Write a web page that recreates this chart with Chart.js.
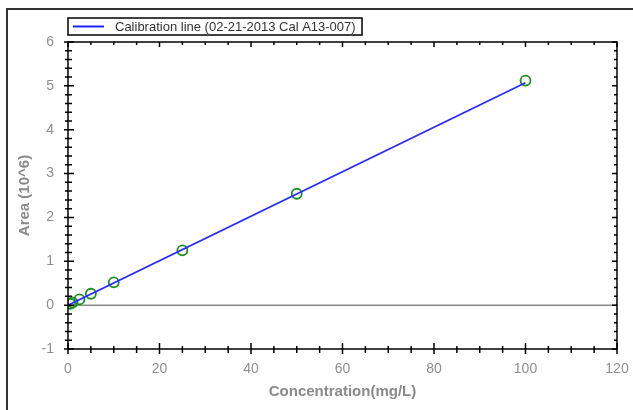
<!DOCTYPE html>
<html>
<head>
<meta charset="utf-8">
<script src="https://cdn.jsdelivr.net/npm/chart.js@4/dist/chart.umd.min.js"></script>
<style>
  html, body { margin: 0; padding: 0; background: #fff; }
  #wrap { position: relative; width: 633px; height: 410px; }
</style>
</head>
<body>
<div id="wrap"><canvas id="c" width="633" height="410"></canvas></div>
<script>
// ---- data ----
const concentrations = [0.5, 1, 2.5, 5, 10, 25, 50, 100];
const areas = [0.03, 0.06, 0.13, 0.26, 0.52, 1.25, 2.54, 5.12];
const fitX = [0, 100];
const fitY = [0, 5.07];
const legendLabel = 'Calibration line (02-21-2013 Cal A13-007)';
const xTitle = 'Concentration(mg/L)';
const yTitle = 'Area (10^6)';
const xRange = [0, 120];
const yRange = [-1, 6];
const xMajorStep = 20, xMinorStep = 5;
const yMajorStep = 1, yMinorStep = 0.2;

const decoPlugin = {
  id: 'deco',
  beforeDatasetsDraw(chart) {
    const ctx = chart.ctx;
    const y = chart.scales.y;
    const a = chart.chartArea;
    ctx.save();
    ctx.strokeStyle = '#8a8a8a';
    ctx.lineWidth = 1.5;
    const y0 = y.getPixelForValue(0);
    ctx.beginPath(); ctx.moveTo(a.left, y0); ctx.lineTo(a.right, y0); ctx.stroke();
    ctx.restore();
  },
  afterDraw(chart) {
    const ctx = chart.ctx;
    const x = chart.scales.x, y = chart.scales.y;
    const a = chart.chartArea;
    ctx.save();
    // outer frame
    ctx.strokeStyle = '#333';
    ctx.lineWidth = 2;
    ctx.strokeRect(7, 9, 700, 500);
    // plot border
    ctx.strokeStyle = '#000';
    ctx.lineWidth = 1.5;
    ctx.strokeRect(a.left, a.top, a.right - a.left, a.bottom - a.top);
    ctx.beginPath();
    const nx = Math.round((xRange[1] - xRange[0]) / xMinorStep);
    for (let i = 0; i <= nx; i++) {
      const v = xRange[0] + i * xMinorStep;
      const px = x.getPixelForValue(v);
      const major = Math.abs(v / xMajorStep - Math.round(v / xMajorStep)) < 1e-6;
      const up = major ? 6 : 3, down = major ? 5 : 4;
      ctx.moveTo(px, a.bottom - up); ctx.lineTo(px, a.bottom + down);
      const inn = major ? 5 : 3;
      ctx.moveTo(px, a.top); ctx.lineTo(px, a.top + inn);
    }
    const ny = Math.round((yRange[1] - yRange[0]) / yMinorStep);
    for (let i = 0; i <= ny; i++) {
      const v = yRange[0] + i * yMinorStep;
      const py = y.getPixelForValue(v);
      const major = Math.abs(v / yMajorStep - Math.round(v / yMajorStep)) < 1e-6;
      const out = major ? 4 : 3, inn = major ? 6 : 4;
      ctx.moveTo(a.left - out, py); ctx.lineTo(a.left + inn, py);
      const rin = major ? 5 : 3;
      ctx.moveTo(a.right - rin, py); ctx.lineTo(a.right, py);
    }
    ctx.stroke();
    // legend box
    ctx.strokeStyle = '#000';
    ctx.lineWidth = 1.5;
    ctx.fillStyle = '#fff';
    ctx.fillRect(68, 18, 294, 17);
    ctx.strokeRect(68, 18, 294, 17);
    ctx.strokeStyle = '#2020ff';
    ctx.lineWidth = 2;
    ctx.beginPath(); ctx.moveTo(73, 26.5); ctx.lineTo(104, 26.5); ctx.stroke();
    ctx.fillStyle = '#333';
    ctx.font = '13px "Liberation Sans", Arial, sans-serif';
    ctx.textBaseline = 'middle';
    ctx.textAlign = 'left';
    ctx.fillText(legendLabel, 115, 27);
    ctx.restore();
  }
};

new Chart(document.getElementById('c'), {
  type: 'scatter',
  data: {
    datasets: [
      {
        label: legendLabel,
        data: fitX.map((v, i) => ({ x: v, y: fitY[i] })),
        showLine: true,
        borderColor: '#2a2aff',
        borderWidth: 1.8,
        pointRadius: 0,
        fill: false
      },
      {
        label: 'Standards',
        data: concentrations.map((v, i) => ({ x: v, y: areas[i] })),
        showLine: false,
        pointStyle: 'circle',
        pointRadius: 5,
        pointBorderWidth: 1.8,
        pointBorderColor: '#1f8f1f',
        pointBackgroundColor: 'rgba(0,0,0,0)'
      }
    ]
  },
  options: {
    responsive: false,
    animation: false,
    events: [],
    layout: { padding: { top: 42, right: 16, left: 0, bottom: 0 } },
    plugins: { legend: { display: false }, tooltip: { enabled: false } },
    scales: {
      x: {
        type: 'linear',
        min: xRange[0], max: xRange[1],
        border: { display: false },
        grid: { display: false, drawTicks: false },
        ticks: {
          stepSize: xMajorStep,
          color: '#8f8f8f',
          font: { family: '"Liberation Sans", Arial, sans-serif', size: 14 },
          padding: 12,
          maxRotation: 0
        },
        title: {
          display: true,
          text: xTitle,
          color: '#8a8a8a',
          font: { family: '"Liberation Sans", Arial, sans-serif', size: 15, weight: 'bold' },
          padding: { top: 0, bottom: 9 }
        },
        afterFit(scale) { scale.height = 61; scale.paddingLeft = 0; scale.paddingRight = 0; }
      },
      y: {
        type: 'linear',
        min: yRange[0], max: yRange[1],
        border: { display: false },
        grid: { display: false, drawTicks: false },
        ticks: {
          stepSize: yMajorStep,
          color: '#8f8f8f',
          font: { family: '"Liberation Sans", Arial, sans-serif', size: 14 },
          padding: 14
        },
        title: {
          display: true,
          text: yTitle,
          color: '#8a8a8a',
          font: { family: '"Liberation Sans", Arial, sans-serif', size: 15, weight: 'bold' },
          padding: { top: 16, bottom: 0 }
        },
        afterFit(scale) { scale.width = 68; scale.paddingTop = 0; scale.paddingBottom = 0; }
      }
    }
  },
  plugins: [decoPlugin]
});
</script>
</body>
</html>
